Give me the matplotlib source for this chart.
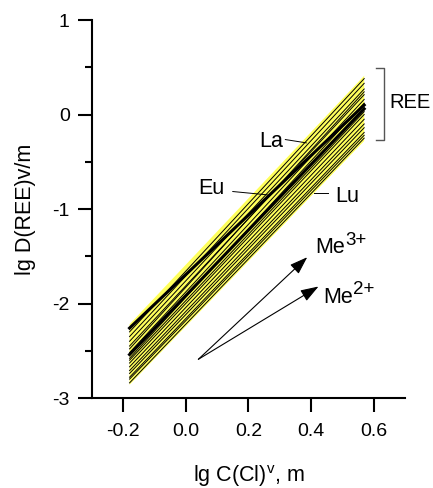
import numpy as np
import matplotlib.pyplot as plt

plt.rcParams['font.family'] = ['Liberation Sans', 'DejaVu Sans']
plt.rcParams['mathtext.fontset'] = 'custom'
plt.rcParams['mathtext.rm'] = 'Liberation Sans'
plt.rcParams['mathtext.it'] = 'Liberation Sans'

# lg C(Cl)v range of the REE lines
x_ends = [-0.18, 0.57]

# lg D values at the left / right ends of each line
elements = ["La", "Ce", "Pr", "Nd", "Sm", "Eu", "Gd", "Tb", "Dy", "Ho", "Er", "Tm", "Yb", "Lu",
            "a1", "a2", "a3"]
y_left = [-2.30, -2.35, -2.40, -2.45, -2.52, -2.26, -2.58, -2.54, -2.63, -2.67, -2.71,
          -2.74, -2.78, -2.84, -2.48, -2.60, -2.80]
y_right = [0.38, 0.33, 0.27, 0.21, 0.16, 0.10, 0.12, 0.06, 0.00, -0.05, -0.10,
           -0.14, -0.19, -0.25, 0.24, 0.03, -0.22]
thick = ["Eu", "Tb"]

# yellow envelope of the REE lines
band_top = [-2.22, 0.41]
band_bottom = [-2.86, -0.28]

# direction arrows (start, Me3+ tip, Me2+ tip)
arrow_start = (0.04, -2.59)
me3_tip = (0.388, -1.51)
me2_tip = (0.424, -1.82)

fig = plt.figure(figsize=(4.33, 4.88), dpi=100)
ax = fig.add_axes([0.2125, 0.1844, 0.7225, 0.7746])

ax.fill([x_ends[0], x_ends[1], x_ends[1], x_ends[0]],
        [band_top[0], band_top[1], band_bottom[1], band_bottom[0]],
        color='#ffff5c', lw=0, zorder=1)

for el, yl, yr in zip(elements, y_left, y_right):
    lw = 2.2 if el in thick else 0.7
    ax.plot(x_ends, [yl, yr], color='black', lw=lw, zorder=2)

# labels with leader lines
ax.text(0.272, -0.29, "La", fontsize=15.5, ha='center', va='center')
ax.plot([0.318, 0.385], [-0.265, -0.30], color='black', lw=0.7)
ax.text(0.082, -0.78, "Eu", fontsize=15.5, ha='center', va='center')
ax.plot([0.15, 0.26], [-0.815, -0.85], color='black', lw=0.7)
ax.text(0.515, -0.87, "Lu", fontsize=15.5, ha='center', va='center')
ax.plot([0.41, 0.455], [-0.83, -0.83], color='black', lw=0.7)

# REE bracket
ax.plot([0.607, 0.632, 0.632, 0.607], [0.497, 0.497, -0.275, -0.275],
        color='#555555', lw=1.0, clip_on=False)
ax.text(0.652, 0.13, "REE", fontsize=14.5, ha='left', va='center', clip_on=False)

# arrows
for tip in (me3_tip, me2_tip):
    ax.annotate("", xy=tip, xytext=arrow_start,
                arrowprops=dict(arrowstyle='-|>,head_length=1.1,head_width=0.38',
                                color='black', lw=0.8, shrinkA=0, shrinkB=0))
for pos, sup in (((0.414, -1.47), "3+"), ((0.438, -1.99), "2+")):
    ax.text(pos[0], pos[1], "Me", fontsize=15.5, ha='left', va='baseline')
    ax.annotate(sup, xy=pos, xytext=(21.5, 6), textcoords='offset points',
                fontsize=13.5, ha='left', va='baseline')

ax.set_xlim(-0.3, 0.7)
ax.set_ylim(-3, 1)
ax.set_xticks([-0.2, 0.0, 0.2, 0.4, 0.6])
ax.set_xticklabels(["-0.2", "0.0", "0.2", "0.4", "0.6"])
ax.set_yticks([-3, -2, -1, 0, 1])
ax.set_yticklabels(["-3", "-2", "-1", "0", "1"])
ax.set_yticks(np.arange(-2.5, 1, 1.0), minor=True)

for s in ['top', 'right']:
    ax.spines[s].set_visible(False)
for s in ['left', 'bottom']:
    ax.spines[s].set_linewidth(1.5)

ax.tick_params(axis='both', which='major', direction='out', length=10, width=1.5, labelsize=14)
ax.tick_params(axis='y', which='minor', direction='out', length=5, width=1.5)
ax.tick_params(axis='x', which='major', pad=8)
ax.tick_params(axis='y', which='major', pad=6)

ax.set_xlabel(r"lg C(Cl)$^{\rm v}$, m", fontsize=15.5, labelpad=17)
ax.set_ylabel("lg D(REE)v/m", fontsize=15.5, labelpad=12)

plt.savefig("out.png", dpi=100)
